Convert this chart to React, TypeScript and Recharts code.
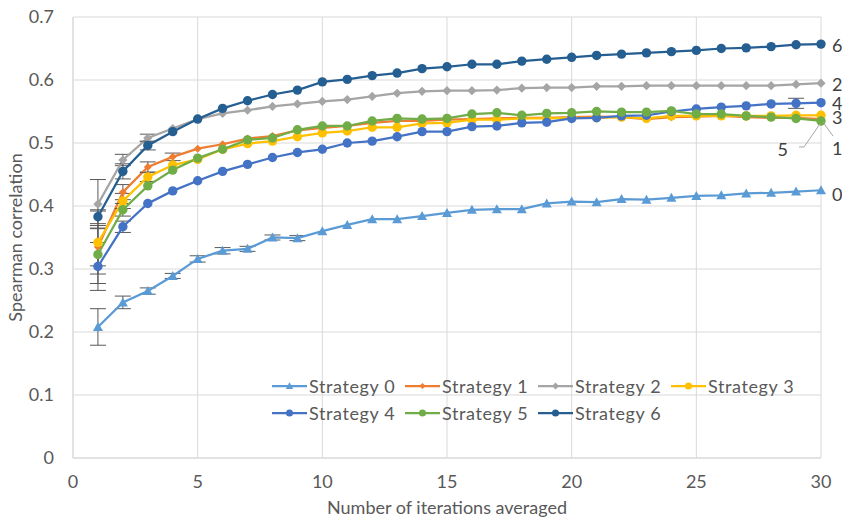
import {
  CartesianGrid,
  ErrorBar,
  LabelList,
  Legend,
  Line,
  LineChart,
  XAxis,
  YAxis,
} from "recharts";

const ITERATIONS = [
  1, 2, 3, 4, 5, 6, 7, 8, 9, 10, 11, 12, 13, 14, 15, 16, 17, 18, 19, 20, 21, 22, 23, 24, 25, 26, 27, 28, 29, 30,
];

const STRATEGY_0 = [
  0.208, 0.247, 0.265, 0.289, 0.316, 0.329, 0.332, 0.35, 0.349, 0.36, 0.37, 0.379, 0.379, 0.384, 0.389,
  0.394, 0.395, 0.395, 0.404, 0.407, 0.406, 0.411, 0.41, 0.413, 0.416, 0.417, 0.42, 0.421, 0.423, 0.425,
];
const STRATEGY_1 = [
  0.335, 0.422, 0.462, 0.478, 0.491, 0.498, 0.507, 0.511, 0.52, 0.524, 0.527, 0.532, 0.535, 0.535, 0.537,
  0.538, 0.539, 0.54, 0.54, 0.541, 0.542, 0.541, 0.538, 0.541, 0.542, 0.543, 0.541, 0.54, 0.54, 0.538,
];
const STRATEGY_2 = [
  0.403, 0.473, 0.508, 0.523, 0.538, 0.547, 0.552, 0.558, 0.562, 0.566, 0.569, 0.574, 0.579, 0.582, 0.583,
  0.583, 0.584, 0.587, 0.588, 0.588, 0.59, 0.59, 0.591, 0.591, 0.591, 0.591, 0.591, 0.591, 0.593, 0.595,
];
const STRATEGY_3 = [
  0.342, 0.408, 0.446, 0.465, 0.474, 0.49, 0.499, 0.503, 0.51, 0.516, 0.519, 0.525, 0.525, 0.531, 0.532,
  0.537, 0.537, 0.539, 0.539, 0.54, 0.54, 0.541, 0.539, 0.543, 0.543, 0.543, 0.543, 0.543, 0.544, 0.544,
];
const STRATEGY_4 = [
  0.304, 0.367, 0.404, 0.424, 0.44, 0.455, 0.466, 0.477, 0.485, 0.49, 0.5, 0.503, 0.51, 0.518, 0.518,
  0.526, 0.527, 0.532, 0.533, 0.539, 0.54, 0.543, 0.544, 0.55, 0.554, 0.557, 0.559, 0.562, 0.563, 0.564,
];
const STRATEGY_5 = [
  0.323, 0.394, 0.432, 0.457, 0.476, 0.49, 0.505, 0.508, 0.521, 0.527, 0.527, 0.535, 0.539, 0.538, 0.539,
  0.546, 0.548, 0.544, 0.547, 0.548, 0.55, 0.549, 0.549, 0.551, 0.546, 0.546, 0.543, 0.541, 0.539, 0.535,
];
const STRATEGY_6 = [
  0.383, 0.455, 0.496, 0.518, 0.538, 0.555, 0.567, 0.577, 0.584, 0.597, 0.601, 0.607, 0.611, 0.618, 0.621,
  0.625, 0.625, 0.63, 0.633, 0.636, 0.639, 0.641, 0.643, 0.645, 0.647, 0.65, 0.651, 0.653, 0.656, 0.657,
];

// error bar half-widths (0 = hidden behind the marker)
const ERR_0 = [
  0.029, 0.01, 0.005, 0.004, 0.005, 0.005, 0.004, 0.004, 0.004, 0, 0, 0, 0, 0, 0,
  0, 0, 0, 0, 0, 0, 0, 0, 0, 0, 0, 0, 0, 0, 0,
];
const ERR_1 = [
  0.03, 0.012, 0.008, 0.006, 0, 0, 0, 0, 0, 0, 0, 0, 0, 0, 0,
  0, 0, 0, 0, 0, 0, 0, 0, 0, 0, 0, 0, 0, 0, 0,
];
const ERR_2 = [
  0.039, 0.009, 0.006, 0, 0, 0, 0, 0, 0, 0, 0, 0, 0, 0, 0,
  0, 0, 0, 0, 0, 0, 0, 0, 0, 0, 0, 0, 0, 0, 0,
];
const ERR_3 = [
  0.05, 0.012, 0.007, 0, 0, 0, 0, 0, 0, 0, 0, 0, 0, 0, 0,
  0, 0, 0, 0, 0, 0, 0, 0, 0, 0, 0, 0, 0, 0, 0,
];
const ERR_4 = [
  0.038, 0.009, 0, 0, 0, 0, 0, 0, 0, 0, 0, 0, 0, 0, 0,
  0, 0, 0, 0, 0, 0, 0, 0, 0, 0, 0, 0, 0, 0.008, 0,
];
const ERR_5 = [
  0.046, 0.01, 0, 0, 0, 0, 0, 0, 0, 0, 0, 0, 0, 0, 0,
  0, 0, 0, 0, 0, 0, 0, 0, 0, 0, 0, 0, 0, 0, 0,
];
const ERR_6 = [
  0.011, 0.012, 0.007, 0, 0, 0, 0, 0, 0, 0, 0, 0, 0, 0, 0,
  0, 0, 0, 0, 0, 0, 0, 0, 0, 0, 0, 0, 0, 0, 0,
];

const SERIES_NAMES = ["Strategy 0", "Strategy 1", "Strategy 2", "Strategy 3", "Strategy 4", "Strategy 5", "Strategy 6"];
const END_LABELS = ["0", "1", "2", "3", "4", "5", "6"];
const Y_TICKS = [0, 0.1, 0.2, 0.3, 0.4, 0.5, 0.6, 0.7];
const X_TICKS = [0, 5, 10, 15, 20, 25, 30];

type Shape = "triangle" | "diamond" | "smallDiamond" | "circle";

const SERIES: { values: number[]; errors: number[]; color: string; shape: Shape }[] = [
  { values: STRATEGY_0, errors: ERR_0, color: "#5B9BD5", shape: "triangle" },
  { values: STRATEGY_1, errors: ERR_1, color: "#ED7D31", shape: "smallDiamond" },
  { values: STRATEGY_2, errors: ERR_2, color: "#A5A5A5", shape: "diamond" },
  { values: STRATEGY_3, errors: ERR_3, color: "#FFC000", shape: "circle" },
  { values: STRATEGY_4, errors: ERR_4, color: "#4472C4", shape: "circle" },
  { values: STRATEGY_5, errors: ERR_5, color: "#70AD47", shape: "circle" },
  { values: STRATEGY_6, errors: ERR_6, color: "#255E91", shape: "circle" },
];

// where the end-of-line labels sit, relative to the last point
const END_LABEL_PLACE = [
  { dx: 11, dy: 4, anchor: "start" },
  { dx: 11, dy: 29, anchor: "start", leader: [[2, 3], [12, 17]] },
  { dx: 11, dy: 1, anchor: "start" },
  { dx: 11, dy: 2, anchor: "start" },
  { dx: 11, dy: 0, anchor: "start" },
  { dx: -33, dy: 28, anchor: "end", leader: [[-1, 3], [-17, 26], [-22, 26]] },
  { dx: 11, dy: 1, anchor: "start" },
];

const data = ITERATIONS.map((x, i) => {
  const row: Record<string, number> = { x };
  SERIES.forEach((s, j) => {
    row[`s${j}`] = s.values[i];
    row[`e${j}`] = s.errors[i];
  });
  return row;
});

const FONT = "Lato, 'Open Sans', sans-serif";
const TEXT = "#595959";
const GRID = "#d9d9d9";

function Marker({ shape, cx, cy, color, scale = 1 }: { shape: Shape; cx: number; cy: number; color: string; scale?: number }) {
  if (shape === "triangle") {
    const w = 5 * scale;
    return (
      <path
        d={`M${cx},${cy - 5 * scale} L${cx + w},${cy + 4 * scale} L${cx - w},${cy + 4 * scale} Z`}
        fill={color}
      />
    );
  }
  if (shape === "diamond" || shape === "smallDiamond") {
    const r = (shape === "diamond" ? 4.6 : 4) * scale;
    return <path d={`M${cx},${cy - r} L${cx + r},${cy} L${cx},${cy + r} L${cx - r},${cy} Z`} fill={color} />;
  }
  return <circle cx={cx} cy={cy} r={4.7 * scale} fill={color} />;
}

function endLabel(j: number) {
  const place = END_LABEL_PLACE[j];
  return (props: any) => {
    if (props.index !== ITERATIONS.length - 1) return null;
    const px = Number(props.x);
    const py = Number(props.y);
    return (
      <g>
        {place.leader && (
          <polyline
            points={place.leader.map(([a, b]) => `${px + a},${py + b}`).join(" ")}
            fill="none"
            stroke="#a6a6a6"
            strokeWidth={1}
          />
        )}
        <text
          x={px + place.dx}
          y={py + place.dy}
          textAnchor={place.anchor as any}
          dominantBaseline="central"
          fill="#404040"
          fontSize={18}
          fontFamily={FONT}
        >
          {END_LABELS[j]}
        </text>
      </g>
    );
  };
}

function renderLegend() {
  return (
    <div
      style={{
        display: "flex",
        flexWrap: "wrap",
        width: 540,
        fontFamily: FONT,
        fontSize: 18,
        letterSpacing: 0.6,
        color: TEXT,
      }}
    >
      {SERIES.map((s, j) => (
        <div key={j} style={{ width: 133, height: 27, display: "flex", alignItems: "center" }}>
          <svg width={35} height={12} style={{ display: "block" }}>
            <line x1={0} x2={35} y1={6} y2={6} stroke={s.color} strokeWidth={2.25} />
            <Marker shape={s.shape} cx={17.5} cy={6} color={s.color} scale={0.75} />
          </svg>
          <span style={{ marginLeft: 2, whiteSpace: "nowrap" }}>{SERIES_NAMES[j]}</span>
        </div>
      ))}
    </div>
  );
}

export default function App() {
  return (
    <div style={{ position: "absolute", left: 0, top: 0 }}>
      <LineChart
        width={842}
        height={519}
        data={data}
        margin={{ top: 17, right: 21, bottom: 0, left: 0 }}
        style={{ fontFamily: FONT }}
      >
        <CartesianGrid stroke={GRID} strokeWidth={1} />
        <XAxis
          dataKey="x"
          type="number"
          domain={[0, 30]}
          ticks={X_TICKS}
          height={61}
          stroke={GRID}
          tickLine={false}
          tickSize={0}
          tickMargin={17}
          tick={{ fill: TEXT, fontSize: 18 }}
          label={{ value: "Number of iterations averaged", position: "insideBottom", offset: 5, fill: TEXT, fontSize: 18 }}
        />
        <YAxis
          type="number"
          domain={[0, 0.7]}
          ticks={Y_TICKS}
          width={73}
          stroke={GRID}
          tickLine={false}
          tickSize={0}
          tickMargin={19}
          tick={{ fill: TEXT, fontSize: 18 }}
          tickFormatter={(v: number) => (v === 0 ? "0" : v.toFixed(1))}
          label={{
            value: "Spearman correlation",
            angle: -90,
            position: "insideLeft",
            offset: 16,
            fill: TEXT,
            fontSize: 18,
            style: { textAnchor: "middle" },
          }}
        />
        <Legend
          content={renderLegend}
          layout="vertical"
          align="center"
          verticalAlign="middle"
          wrapperStyle={{ left: 272, top: 372, width: 540 }}
        />
        {SERIES.map((s, j) => (
          <Line
            key={j}
            dataKey={`s${j}`}
            name={SERIES_NAMES[j]}
            stroke={s.color}
            strokeWidth={2.25}
            isAnimationActive={false}
            activeDot={false}
            dot={(p: any) => <Marker key={`d${j}-${p.index}`} shape={s.shape} cx={p.cx} cy={p.cy} color={s.color} />}
          >
            <ErrorBar dataKey={`e${j}`} width={8} strokeWidth={1} stroke="#595959" direction="y" isAnimationActive={false} />
            <LabelList dataKey={`s${j}`} content={endLabel(j)} />
          </Line>
        ))}
      </LineChart>
    </div>
  );
}
